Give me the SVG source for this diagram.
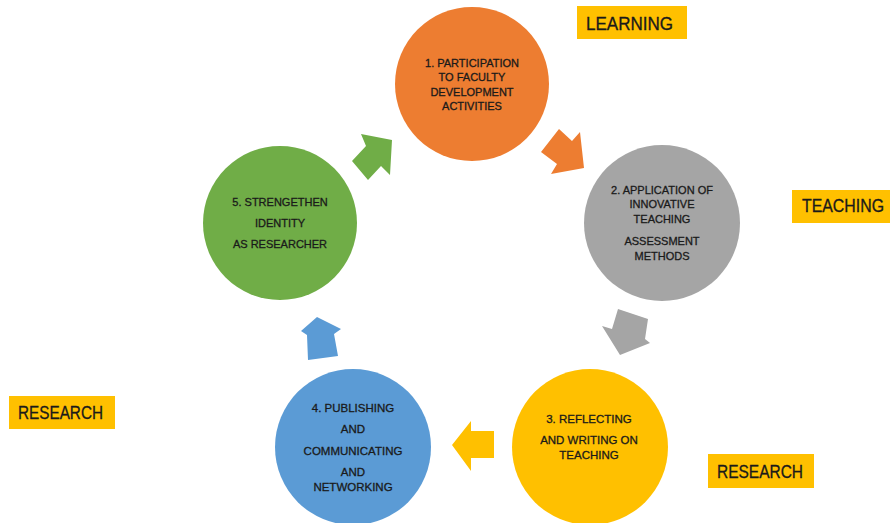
<svg xmlns="http://www.w3.org/2000/svg" width="893" height="523" viewBox="0 0 893 523">
  <style>
    .ct { font-family: "Liberation Sans", Arial, sans-serif; font-size: 11px; fill: #1a1a1a; stroke: #1a1a1a; stroke-width: 0.3; text-anchor: middle; }
    .ct2 { font-size: 11.5px; }
    .lb { fill: #FFC000; }
    .lt { font-family: "Liberation Sans", Arial, sans-serif; font-size: 17.5px; fill: #1a1a1a; stroke: #1a1a1a; stroke-width: 0.3; }
  </style>
  <rect width="893" height="523" fill="#ffffff"/>

  <g id="connectors">
    <polygon points="559,129 572,141 580,132 584,168 551,174 557,164 541,152" fill="#ED7D31"/>
    <polygon points="618,309 648,319 645,339 650,343 620,355 602,326 612,329" fill="#A5A5A5"/>
    <polygon points="494,431 494,458 471,458 471,471 452,445 471,421 471,431" fill="#FFC000"/>
    <polygon points="308,360 338,356 334,334 341,329 317,317 301,331 307,335" fill="#5B9BD5"/>
    <polygon points="352,161 366,146 361,134 392,140 390,175 381,166 368,180" fill="#70AD47"/>
  </g>

  <g id="node1">
    <circle cx="472" cy="84" r="77" fill="#ED7D31"/>
    <text class="ct" x="472" y="67">1. PARTICIPATION</text>
    <text class="ct" x="472" y="81">TO FACULTY</text>
    <text class="ct" x="472" y="96">DEVELOPMENT</text>
    <text class="ct" x="472" y="110">ACTIVITIES</text>
  </g>

  <g id="node2">
    <circle cx="662" cy="223" r="78" fill="#A5A5A5"/>
    <text class="ct" x="662" y="194">2. APPLICATION OF</text>
    <text class="ct" x="662" y="208">INNOVATIVE</text>
    <text class="ct" x="662" y="223">TEACHING</text>
    <text class="ct" x="662" y="245">ASSESSMENT</text>
    <text class="ct" x="662" y="260">METHODS</text>
  </g>

  <g id="node3">
    <circle cx="590" cy="447" r="78" fill="#FFC000"/>
    <text class="ct ct2" x="589" y="423">3. REFLECTING</text>
    <text class="ct ct2" x="589" y="444">AND WRITING ON</text>
    <text class="ct ct2" x="589" y="459">TEACHING</text>
  </g>

  <g id="node4">
    <circle cx="353" cy="447" r="78" fill="#5B9BD5"/>
    <text class="ct ct2" x="353" y="412">4. PUBLISHING</text>
    <text class="ct ct2" x="353" y="433">AND</text>
    <text class="ct ct2" x="353" y="455">COMMUNICATING</text>
    <text class="ct ct2" x="353" y="476">AND</text>
    <text class="ct ct2" x="353" y="491">NETWORKING</text>
  </g>

  <g id="node5">
    <circle cx="280" cy="223" r="77" fill="#70AD47"/>
    <text class="ct" x="280" y="206">5. STRENGETHEN</text>
    <text class="ct" x="280" y="227">IDENTITY</text>
    <text class="ct" x="280" y="248">AS RESEARCHER</text>
  </g>

  <g id="label-learning">
    <rect class="lb" x="577" y="6" width="110" height="33"/>
    <text class="lt" x="586" y="30" textLength="87" lengthAdjust="spacingAndGlyphs">LEARNING</text>
  </g>
  <g id="label-teaching">
    <rect class="lb" x="792" y="190" width="98" height="33"/>
    <text class="lt" x="802" y="212" textLength="82" lengthAdjust="spacingAndGlyphs">TEACHING</text>
  </g>
  <g id="label-research-left">
    <rect class="lb" x="9" y="396" width="106" height="33"/>
    <text class="lt" x="18" y="419" textLength="85" lengthAdjust="spacingAndGlyphs">RESEARCH</text>
  </g>
  <g id="label-research-right">
    <rect class="lb" x="708" y="454" width="106" height="34"/>
    <text class="lt" x="717" y="478" textLength="86" lengthAdjust="spacingAndGlyphs">RESEARCH</text>
  </g>
</svg>
